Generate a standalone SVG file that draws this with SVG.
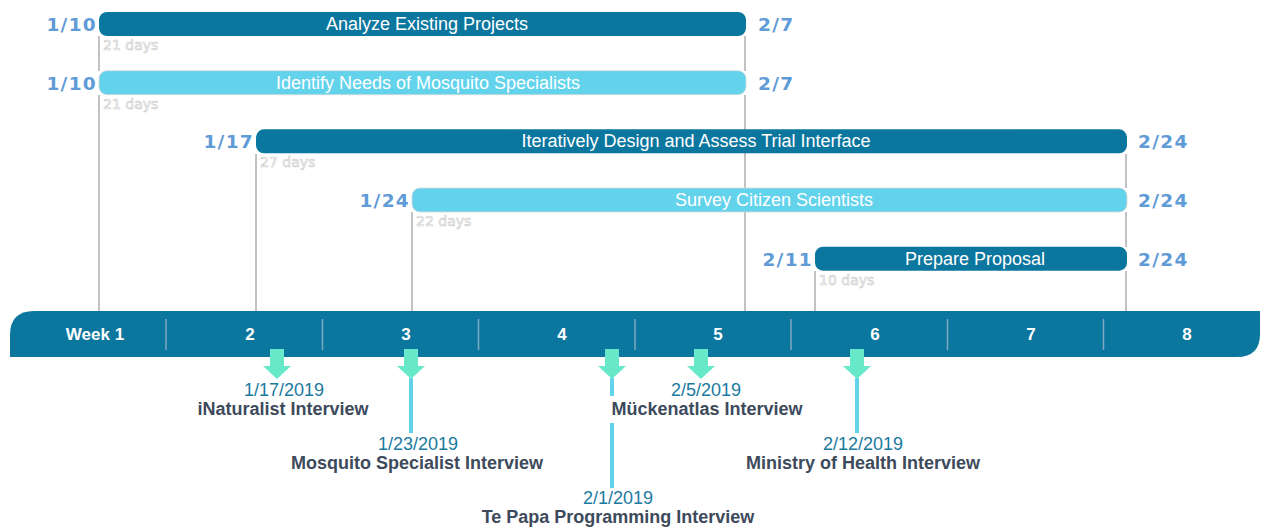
<svg xmlns="http://www.w3.org/2000/svg" width="1263" height="527" viewBox="0 0 1263 527">
<style>
.bg{fill:#ffffff}
.dark{fill:#0b769e}
.light{fill:#63d3ec;stroke:#d8d8d8;stroke-width:0.8}
.bartxt{font-family:"Liberation Sans",Arial,sans-serif;font-size:18px;fill:#ffffff;text-anchor:middle}
.sd{font-family:"DejaVu Sans",Verdana,sans-serif;font-weight:bold;font-size:18.5px;fill:#5f9bd6;text-anchor:end;letter-spacing:1.3px}
.ed{font-family:"DejaVu Sans",Verdana,sans-serif;font-weight:bold;font-size:18.5px;fill:#5f9bd6;letter-spacing:1.3px}
.dur{font-family:"DejaVu Sans",Verdana,sans-serif;font-size:14px;fill:#ffffff;stroke:#c8c8c8;stroke-width:0.6}
.vl{stroke:#c2c2c2;stroke-width:2;fill:none}
.stem{stroke:#63d3ec;stroke-width:4;fill:none}
.sep{stroke:#7fa9c0;stroke-width:1.5}
.wk{font-family:"Liberation Sans",Arial,sans-serif;font-weight:bold;font-size:17px;fill:#ffffff;text-anchor:middle}
.arrow{fill:#66e8c9}
.mdate{font-family:"Liberation Sans",Arial,sans-serif;font-size:18px;fill:#1a7aa0;text-anchor:middle}
.mname{font-family:"Liberation Sans",Arial,sans-serif;font-weight:bold;font-size:18px;fill:#3d4a5c;text-anchor:middle}
</style>
<defs>
<path id="arr" d="M-7,349 L7,349 L7,366 L14,366 L0,379 L-14,366 L-7,366 Z"/>
</defs>
<rect class="bg" x="0" y="0" width="1263" height="527"/>

<g id="connectors">
<line class="vl" x1="99" y1="36" x2="99" y2="71"/>
<line class="vl" x1="99" y1="95" x2="99" y2="311"/>
<line class="vl" x1="745" y1="36" x2="745" y2="71"/>
<line class="vl" x1="745" y1="95" x2="745" y2="311"/>
<line class="vl" x1="256" y1="154" x2="256" y2="311"/>
<line class="vl" x1="412" y1="212" x2="412" y2="311"/>
<line class="vl" x1="1126" y1="154" x2="1126" y2="188"/>
<line class="vl" x1="1126" y1="212" x2="1126" y2="247"/>
<line class="vl" x1="1126" y1="271" x2="1126" y2="311"/>
<line class="vl" x1="815" y1="271" x2="815" y2="311"/>
<line class="stem" x1="411" y1="378" x2="411" y2="433"/>
<line class="stem" x1="612" y1="378" x2="612" y2="396"/>
<line class="stem" x1="612" y1="423" x2="612" y2="488"/>
<line class="stem" x1="857" y1="378" x2="857" y2="433"/>
</g>

<g id="task1">
<rect class="dark" x="99" y="12" width="647" height="24" rx="8"/>
<text class="bartxt" x="427" y="30">Analyze Existing Projects</text>
<text class="sd" x="97" y="31">1/10</text>
<text class="ed" x="758" y="31">2/7</text>
<text class="dur" x="103" y="50">21 days</text>
</g>

<g id="task2">
<rect class="light" x="99" y="70.7" width="647" height="24" rx="8"/>
<text class="bartxt" x="428" y="88.7">Identify Needs of Mosquito Specialists</text>
<text class="sd" x="97" y="89.7">1/10</text>
<text class="ed" x="758" y="89.7">2/7</text>
<text class="dur" x="103" y="108.7">21 days</text>
</g>

<g id="task3">
<rect class="dark" x="256" y="129.3" width="871" height="24" rx="8"/>
<text class="bartxt" x="696" y="147.3">Iteratively Design and Assess Trial Interface</text>
<text class="sd" x="254" y="148.3">1/17</text>
<text class="ed" x="1138" y="148.3">2/24</text>
<text class="dur" x="260" y="167.3">27 days</text>
</g>

<g id="task4">
<rect class="light" x="412" y="188" width="715" height="24" rx="8"/>
<text class="bartxt" x="774" y="206">Survey Citizen Scientists</text>
<text class="sd" x="410" y="207">1/24</text>
<text class="ed" x="1138" y="207">2/24</text>
<text class="dur" x="416" y="226">22 days</text>
</g>

<g id="task5">
<rect class="dark" x="815" y="246.7" width="312" height="24" rx="8"/>
<text class="bartxt" x="975" y="264.7">Prepare Proposal</text>
<text class="sd" x="813" y="265.7">2/11</text>
<text class="ed" x="1138" y="265.7">2/24</text>
<text class="dur" x="819" y="284.7">10 days</text>
</g>

<g id="timeline">
<path class="dark" d="M10,357 L10,335 Q10,311 34,311 L1260,311 L1260,334 Q1260,357 1237,357 Z"/>
<line class="sep" x1="166" y1="319" x2="166" y2="350"/>
<line class="sep" x1="322.5" y1="319" x2="322.5" y2="350"/>
<line class="sep" x1="478.5" y1="319" x2="478.5" y2="350"/>
<line class="sep" x1="635" y1="319" x2="635" y2="350"/>
<line class="sep" x1="791" y1="319" x2="791" y2="350"/>
<line class="sep" x1="947.5" y1="319" x2="947.5" y2="350"/>
<line class="sep" x1="1103.5" y1="319" x2="1103.5" y2="350"/>
<text class="wk" x="95" y="340">Week 1</text>
<text class="wk" x="250" y="340">2</text>
<text class="wk" x="406" y="340">3</text>
<text class="wk" x="562" y="340">4</text>
<text class="wk" x="718" y="340">5</text>
<text class="wk" x="875" y="340">6</text>
<text class="wk" x="1031" y="340">7</text>
<text class="wk" x="1187" y="340">8</text>
</g>

<g id="m1">
<use href="#arr" class="arrow" x="277"/>
<text class="mdate" x="284" y="396">1/17/2019</text>
<text class="mname" x="283" y="415">iNaturalist Interview</text>
</g>

<g id="m2">
<use href="#arr" class="arrow" x="411"/>
<text class="mdate" x="418" y="450">1/23/2019</text>
<text class="mname" x="417" y="469">Mosquito Specialist Interview</text>
</g>

<g id="m3">
<use href="#arr" class="arrow" x="612"/>
<text class="mdate" x="618" y="504">2/1/2019</text>
<text class="mname" x="618" y="523">Te Papa Programming Interview</text>
</g>

<g id="m4">
<use href="#arr" class="arrow" x="701"/>
<text class="mdate" x="706" y="396">2/5/2019</text>
<text class="mname" x="707" y="415">Mückenatlas Interview</text>
</g>

<g id="m5">
<use href="#arr" class="arrow" x="857"/>
<text class="mdate" x="863" y="450">2/12/2019</text>
<text class="mname" x="863" y="469">Ministry of Health Interview</text>
</g>
</svg>
